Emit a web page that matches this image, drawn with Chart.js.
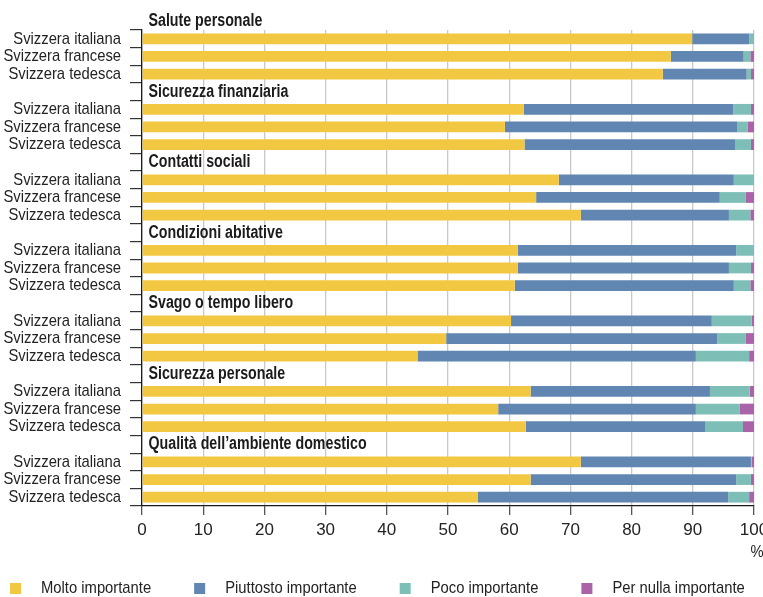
<!DOCTYPE html>
<html lang="it">
<head>
<meta charset="UTF-8">
<title>Importanza per la qualità di vita</title>
<script src="https://cdn.jsdelivr.net/npm/chart.js"></script>
<style>
  html, body { margin: 0; padding: 0; background: #fff; }
  #wrap { width: 763px; height: 597px; }
</style>
</head>
<body>
<div id="wrap"><canvas id="grafico"></canvas></div>
<script>
// Ambiti e regioni linguistiche
const gruppi = ['Salute personale', 'Sicurezza finanziaria', 'Contatti sociali', 'Condizioni abitative',
                'Svago o tempo libero', 'Sicurezza personale', 'Qualità dell’ambiente domestico'];
const regioni = ['Svizzera italiana', 'Svizzera francese', 'Svizzera tedesca'];

// Quote in %, una per regione e ambito (ordine: gruppo per gruppo, regioni come sopra)
const molto     = [89.9, 86.4, 85.1, 62.4, 59.3, 62.5, 68.1, 64.4, 71.7, 61.4, 61.4, 60.9, 60.3, 49.7, 45.1, 63.5, 58.2, 62.7, 71.7, 63.5, 54.9];
const piuttosto = [ 9.3, 11.9, 13.7, 34.2, 38.0, 34.4, 28.6, 30.0, 24.2, 35.7, 34.5, 35.8, 32.8, 44.3, 45.4, 29.3, 32.3, 29.3, 27.8, 33.6, 40.9];
const poco      = [ 0.8,  1.1,  0.7,  2.9,  1.7,  2.6,  3.3,  4.2,  3.5,  2.9,  3.6,  2.7,  6.5,  4.6,  8.7,  6.5,  7.2,  6.2,  0.1,  2.4,  3.4];
const nulla     = [ 0.0,  0.6,  0.5,  0.5,  1.0,  0.5,  0.0,  1.4,  0.6,  0.0,  0.5,  0.6,  0.4,  1.4,  0.8,  0.7,  2.3,  1.8,  0.4,  0.5,  0.8];

const categorie = ['Molto importante', 'Piuttosto importante', 'Poco importante', 'Per nulla importante'];
const colori = ['#f2c843', '#6186b1', '#7dbfb7', '#aa62a8'];
const tickX = [0, 10, 20, 30, 40, 50, 60, 70, 80, 90, 100];

const FONT = "'Liberation Sans', Arial, sans-serif";
const TESTO = '#232323';
const STRETTO = 0.87;      // compressione orizzontale del testo normale
const STRETTO_B = 0.79;    // ... e del grassetto

// Una riga vuota per il titolo di ogni gruppo, poi le tre regioni
const righe = [];
const rigaTitolo = [];
gruppi.forEach(() => {
    rigaTitolo.push(righe.length);
    righe.push('');
    regioni.forEach(r => righe.push(r));
});

function colonna(valori) {
    const out = [];
    gruppi.forEach((g, gi) => {
        out.push(null);
        regioni.forEach((r, ri) => out.push(valori[gi * regioni.length + ri]));
    });
    return out;
}

const serie = [molto, piuttosto, poco, nulla];

function testoStretto(ctx, s, x, y, k, align) {
    ctx.save();
    ctx.translate(x, y);
    ctx.scale(k, 1);
    ctx.textAlign = align;
    ctx.fillText(s, 0, 0);
    ctx.restore();
}

// Etichette delle righe, titoli dei gruppi, unità dell'asse e legenda
const decorazioni = {
    id: 'decorazioni',
    afterDraw(chart) {
        const { ctx, scales: { x, y } } = chart;
        ctx.save();
        ctx.textBaseline = 'middle';

        ctx.font = `17px ${FONT}`;
        ctx.fillStyle = TESTO;
        y.ticks.forEach((t, i) => {
            const s = chart.data.labels[t.value];
            if (s) testoStretto(ctx, s, x.left - 21, y.getPixelForTick(i), STRETTO, 'right');
        });

        ctx.fillStyle = '#1b1b1b';
        ctx.font = `bold 18px ${FONT}`;
        rigaTitolo.forEach((ri, gi) => {
            testoStretto(ctx, gruppi[gi], x.left + 6.5, y.getPixelForValue(ri), STRETTO_B, 'left');
        });

        ctx.font = `17px ${FONT}`;
        ctx.fillStyle = TESTO;
        testoStretto(ctx, '%', x.getPixelForValue(100) + 3, x.top + 46, STRETTO, 'center');

        // legenda in basso
        let lx = 10;
        const ly = 588.5;
        chart.data.datasets.forEach(ds => {
            ctx.fillStyle = ds.backgroundColor;
            ctx.fillRect(lx, ly - 5.5, 11, 11);
            ctx.fillStyle = TESTO;
            testoStretto(ctx, ds.label, lx + 31, ly, STRETTO, 'left');
            lx += 31 + ctx.measureText(ds.label).width * STRETTO + 43;
        });
        ctx.restore();
    }
};

new Chart(document.getElementById('grafico'), {
    type: 'bar',
    data: {
        labels: righe,
        datasets: serie.map((v, i) => ({
            label: categorie[i],
            data: colonna(v),
            backgroundColor: colori[i],
            borderWidth: 0,
            barPercentage: 0.61,
            categoryPercentage: 1
        }))
    },
    options: {
        indexAxis: 'y',
        responsive: true,
        maintainAspectRatio: false,
        animation: false,
        layout: { padding: { top: 30, right: 9, bottom: 0, left: 0 }, autoPadding: false },
        plugins: {
            legend: { display: false },
            tooltip: { enabled: false }
        },
        scales: {
            x: {
                stacked: true,
                min: 0,
                max: 100,
                afterBuildTicks: s => { s.ticks = tickX.map(v => ({ value: v })); },
                afterFit: s => { s.height = 91; s.paddingLeft = 0; s.paddingRight = 0; },
                grid: { color: '#c9c9cd', lineWidth: 1.3, tickColor: '#555', tickLength: 9 },
                border: { color: '#1b1b1b', width: 1.3 },
                ticks: { color: TESTO, font: { family: FONT, size: 17 }, padding: 5, maxRotation: 0 }
            },
            y: {
                stacked: true,
                min: 1,
                afterFit: s => { s.width = 142; s.paddingTop = 0; s.paddingBottom = 0; },
                grid: { drawOnChartArea: false, offset: true, tickLength: 12, tickColor: '#333', lineWidth: 1.2 },
                border: { color: '#1b1b1b', width: 1.3 },
                ticks: { display: false, autoSkip: false }
            }
        }
    },
    plugins: [decorazioni]
});
</script>
</body>
</html>
